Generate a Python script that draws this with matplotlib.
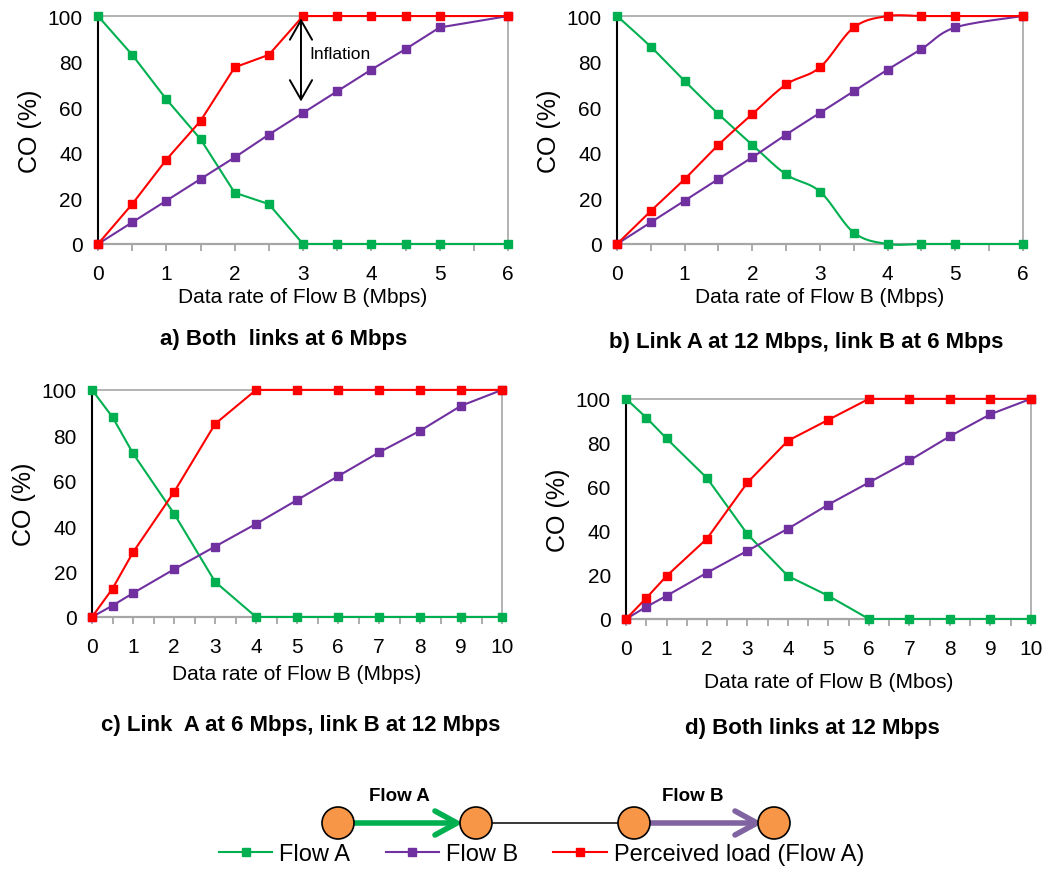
import numpy as np
import matplotlib
matplotlib.use('Agg')
import matplotlib.pyplot as plt
from matplotlib.patches import Circle
from matplotlib.lines import Line2D
from matplotlib.ticker import MultipleLocator

plt.rcParams['font.family'] = ['Liberation Sans', 'DejaVu Sans']

GREEN = '#00B050'
PURPLE = '#7030A0'
RED = '#FF0000'
GREY = '#A6A6A6'

# data rate of flow B (Mbps)
rate_6 = [0, 0.5, 1, 1.5, 2, 2.5, 3, 3.5, 4, 4.5, 5, 6]
rate_10 = [0, 0.5, 1, 2, 3, 4, 5, 6, 7, 8, 9, 10]

# a) both links at 6 Mbps
a_flow_a = [100, 83, 63.5, 46, 22.5, 17.5, 0, 0, 0, 0, 0, 0]
a_flow_b = [0, 9.5, 19, 28.5, 38, 48, 57.5, 67, 76.5, 85.5, 95, 100]
a_load = [0, 17.5, 37, 54, 77.5, 83, 100, 100, 100, 100, 100, 100]

# b) link A at 12 Mbps, link B at 6 Mbps
b_flow_a = [100, 86.5, 71.5, 57, 43.5, 30.5, 23, 5, 0, 0, 0, 0]
b_flow_b = [0, 9.5, 19, 28.5, 38, 48, 57.5, 67, 76.5, 85.5, 95, 100]
b_load = [0, 14.5, 28.5, 43.5, 57, 70, 77.5, 95, 100, 100, 100, 100]

# c) link A at 6 Mbps, link B at 12 Mbps
c_flow_a = [100, 88, 72, 45.5, 15.5, 0, 0, 0, 0, 0, 0, 0]
c_flow_b = [0, 5, 10.5, 21, 31, 41, 51.5, 62, 72.5, 82, 93, 100]
c_load = [0, 12.5, 28.5, 55, 85, 100, 100, 100, 100, 100, 100, 100]

# d) both links at 12 Mbps
d_flow_a = [100, 91.5, 82, 64, 38.5, 19.5, 10.5, 0, 0, 0, 0, 0]
d_flow_b = [0, 5.5, 10.5, 21, 31, 41, 52, 62, 72, 83, 93, 100]
d_load = [0, 9.5, 19.5, 36.5, 62, 81, 90.5, 100, 100, 100, 100, 100]

series_names = ['Flow A', 'Flow B', 'Perceived load (Flow A)']
series_colors = [GREEN, PURPLE, RED]


def smooth(x, y, n=24):
    # catmull-rom style bezier through the points (like a spreadsheet "smoothed line")
    x = np.asarray(x, float)
    y = np.asarray(y, float)
    px = np.concatenate([[x[0]], x, [x[-1]]])
    py = np.concatenate([[y[0]], y, [y[-1]]])
    t = np.linspace(0, 1, n)[:, None]
    xs, ys = [], []
    for i in range(len(x) - 1):
        p0 = np.array([px[i], py[i]])
        p1 = np.array([px[i + 1], py[i + 1]])
        p2 = np.array([px[i + 2], py[i + 2]])
        p3 = np.array([px[i + 3], py[i + 3]])
        c1 = p1 + (p2 - p0) / 6
        c2 = p2 - (p3 - p1) / 6
        pts = ((1 - t) ** 3) * p1 + 3 * ((1 - t) ** 2) * t * c1 + 3 * (1 - t) * t ** 2 * c2 + t ** 3 * p2
        xs.extend(pts[:, 0])
        ys.extend(pts[:, 1])
    return xs, ys


def draw_panel(ax, x, values, xmax, xlabel, smoothed=False, xlabelpad=3):
    for k, (y, c) in enumerate(zip(values, series_colors)):
        if smoothed:
            lx, ly = smooth(x, y)
        else:
            lx, ly = x, y
        ax.plot(lx, ly, color=c, lw=1.5, clip_on=False, zorder=3 + k)
        ax.plot(x, y, 's', color=c, ms=5.5, clip_on=False, zorder=3 + k)
    ax.set_xlim(0, xmax)
    ax.set_ylim(0, 100)
    ax.set_yticks(range(0, 101, 20))
    ax.xaxis.set_major_locator(MultipleLocator(1))
    ax.xaxis.set_minor_locator(MultipleLocator(0.5))
    for side in ('top', 'right'):
        ax.spines[side].set_color(GREY)
        ax.spines[side].set_linewidth(1.2)
    ax.spines['bottom'].set_color(GREY)
    ax.spines['bottom'].set_linewidth(1.6)
    ax.spines['left'].set_color('black')
    ax.spines['left'].set_linewidth(1.5)
    ax.tick_params(axis='x', which='both', direction='out', length=5, width=1.3,
                   color=GREY, labelsize=15, pad=9.5)
    ax.tick_params(axis='y', length=0, labelsize=15, pad=11)
    ax.set_ylabel('CO (%)', fontsize=18, labelpad=4)
    ax.set_xlabel(xlabel, fontsize=15, labelpad=xlabelpad)


fig = plt.figure(figsize=(10.46, 8.7), dpi=100)

ax_a = fig.add_axes([0.0937, 0.7184, 0.392, 0.262])
ax_b = fig.add_axes([0.5899, 0.7184, 0.388, 0.262])
ax_c = fig.add_axes([0.088, 0.2897, 0.392, 0.261])
ax_d = fig.add_axes([0.5985, 0.2874, 0.387, 0.253])

draw_panel(ax_a, rate_6, [a_flow_a, a_flow_b, a_load], 6, 'Data rate of Flow B (Mbps)')
draw_panel(ax_b, rate_6, [b_flow_a, b_flow_b, b_load], 6, 'Data rate of Flow B (Mbps)', smoothed=True)
draw_panel(ax_c, rate_10, [c_flow_a, c_flow_b, c_load], 10, 'Data rate of Flow B (Mbps)', xlabelpad=6)
draw_panel(ax_d, rate_10, [d_flow_a, d_flow_b, d_load], 10, 'Data rate of Flow B (Mbos)', xlabelpad=10)

# inflation marker between perceived load and flow B
ax_a.annotate('', xy=(2.97, 99), xytext=(2.97, 62.5),
              arrowprops=dict(arrowstyle='<->, head_length=0.7, head_width=0.4',
                              lw=1.4, color='black', mutation_scale=20, shrinkA=0, shrinkB=0),
              zorder=10)
ax_a.text(3.1, 83.5, 'Inflation', fontsize=12.5, ha='left', va='center')

# overlay in pixel units for captions and the topology sketch
ov = fig.add_axes([0, 0, 1, 1])
ov.set_xlim(0, 1046)
ov.set_ylim(870, 0)
ov.axis('off')

captions = [
    (284, 340, 'a) Both  links at 6 Mbps'),
    (806, 343, 'b) Link A at 12 Mbps, link B at 6 Mbps'),
    (301, 726, 'c) Link  A at 6 Mbps, link B at 12 Mbps'),
    (812, 729, 'd) Both links at 12 Mbps'),
]
for cx, cy, txt in captions:
    ov.text(cx, cy, txt, fontsize=16, fontweight='bold', ha='center', va='center')

node_y = 824
node_x = [338, 476, 634, 774]
ov.plot([492, 618], [node_y, node_y], color='black', lw=1.1, zorder=1)
ov.plot([354, 457], [node_y, node_y], color=GREEN, lw=4, solid_capstyle='butt', zorder=1)
ov.plot([435, 457, 435], [node_y - 12, node_y, node_y + 12], color=GREEN, lw=4,
        solid_capstyle='round', solid_joinstyle='round', zorder=1)
ov.plot([650, 757], [node_y, node_y], color='#8064A2', lw=4, solid_capstyle='butt', zorder=1)
ov.plot([735, 757, 735], [node_y - 12, node_y, node_y + 12], color='#8064A2', lw=4,
        solid_capstyle='round', solid_joinstyle='round', zorder=1)
for nx in node_x:
    ov.add_patch(Circle((nx, node_y), 16, facecolor='#F79646', edgecolor='black', lw=1.2, zorder=2))
ov.text(399, 797, 'Flow A', fontsize=13.5, fontweight='bold', ha='center', va='center')
ov.text(693, 797, 'Flow B', fontsize=13.5, fontweight='bold', ha='center', va='center')

handles = [Line2D([], [], color=c, lw=1.5, marker='s', ms=5.5) for c in series_colors]
fig.legend(handles, series_names, loc='center', bbox_to_anchor=(0.5177, 0.0172), ncol=3,
           frameon=False, fontsize=17, handlelength=2.25, handletextpad=0.3,
           columnspacing=1.5, borderpad=0, borderaxespad=0)

fig.savefig('out.png', dpi=100)
